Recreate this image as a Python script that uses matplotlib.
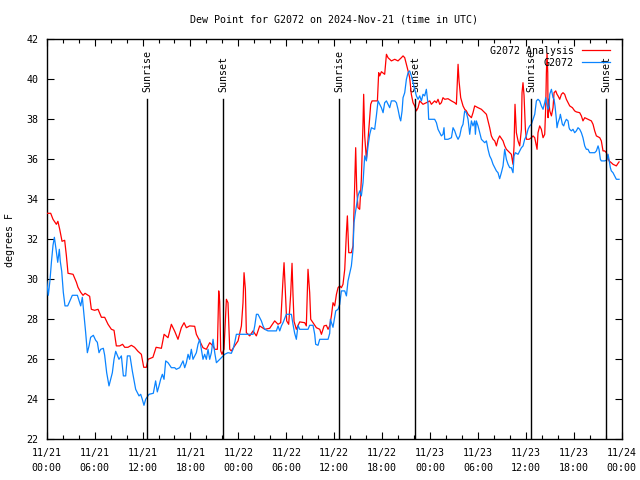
import matplotlib
matplotlib.use("Agg")
import matplotlib.pyplot as plt
import matplotlib.dates as mdates
import pandas as pd

# ---------------- data (hours since 2024-11-21 00:00 UTC, degrees F) ----------------
analysis_hours = [0, 0.5, 0.79, 1.21, 1.4, 1.63, 1.92, 2.25, 2.46, 2.67, 3.3, 3.72, 3.92, 4.26, 4.55, 4.8,
                  5.38, 5.59, 6.0, 6.43, 6.85, 7.26, 7.68, 8.1, 8.43, 8.72, 9.14, 9.5, 9.77, 10.18, 10.6,
                  11.0, 11.43, 11.85, 12.15, 12.48, 12.69, 13.3, 13.7, 14.36, 14.7, 15.19, 15.61, 16.03,
                  16.44, 16.86, 17.2, 17.49, 17.9, 18.53, 18.74, 19.16, 19.57, 19.99, 20.41, 20.83, 21.04,
                  21.37, 21.54, 21.66, 21.79, 21.95, 22.2, 22.5, 22.7, 22.92, 23.12, 23.54, 23.96, 24.38,
                  24.58, 24.71, 24.88, 25.0, 25.42, 25.84, 26.25, 26.67, 27.3, 27.92, 28.55, 28.97, 29.3,
                  29.59, 29.72, 29.89, 30.05, 30.3, 30.55, 30.72, 30.84, 30.97, 31.26, 31.68, 32.31, 32.51,
                  32.72, 32.93, 33.06, 33.35, 33.77, 34.19, 34.4, 34.73, 35.02, 35.23, 35.44, 35.65, 35.85,
                  36.06, 36.28, 36.48, 36.69, 36.9, 37.1, 37.32, 37.53, 37.65, 37.82, 38.15, 38.36, 38.57,
                  38.69, 38.82, 38.98, 39.19, 39.4, 39.61, 39.69, 39.82, 40.03, 40.24, 40.57, 40.74, 41.07,
                  41.41, 41.57, 41.7, 41.91, 42.32, 42.54, 42.74, 43.16, 43.58, 43.99, 44.41, 44.62, 44.83,
                  45.25, 45.45, 45.66, 45.87, 46.08, 46.29, 46.5, 46.71, 47.12, 47.54, 47.96, 48.17, 48.58,
                  48.8, 49.0, 49.21, 49.42, 49.62, 49.84, 50.25, 50.68, 51.09, 51.3, 51.51, 51.63, 51.84,
                  52.13, 52.34, 52.55, 52.76, 53.18, 53.38, 53.59, 54.01, 54.43, 54.85, 55.06, 55.26, 55.47,
                  55.68, 55.89, 56.1, 56.31, 56.51, 56.72, 57.14, 57.35, 57.56, 57.98, 58.18, 58.39, 58.52,
                  58.64, 58.81, 59.02, 59.23, 59.44, 59.52, 59.64, 59.77, 59.94, 60.07, 60.4, 60.69, 60.9,
                  61.11, 61.32, 61.4, 61.52, 61.73, 61.94, 62.15, 62.36, 62.49, 62.57, 62.65, 62.74, 62.78,
                  62.86, 62.99, 63.2, 63.4, 63.53, 63.74, 63.9, 64.03, 64.24, 64.45, 64.65, 64.86, 65.07,
                  65.28, 65.49, 65.83, 66.11, 66.32, 66.74, 66.95, 67.15, 67.37, 67.78, 68.2, 68.41, 68.62,
                  68.83, 69.25, 69.45, 69.66, 69.87, 70.08, 70.29, 70.41, 70.7, 70.91, 71.33, 71.54, 71.67]
analysis_values = [33.3, 33.3, 33.0, 32.75, 32.9, 32.5, 31.9, 31.95, 31.2, 30.3, 30.25, 29.85, 29.6, 29.35,
                   29.2, 29.3, 29.15, 28.5, 28.45, 28.5, 28.1, 28.1, 27.75, 27.5, 27.45, 26.67, 26.67, 26.75,
                   26.6, 26.6, 26.7, 26.6, 26.4, 26.25, 25.6, 25.6, 26.0, 26.1, 26.6, 26.55, 27.25, 27.08,
                   27.75, 27.4, 27.0, 27.58, 27.83, 27.58, 27.67, 27.65, 27.25, 26.92, 26.58, 26.5, 26.83,
                   26.67, 26.5, 26.5, 29.42, 28.9, 26.42, 26.25, 26.5, 29.0, 28.83, 26.5, 26.42, 26.67, 26.92,
                   27.67, 28.83, 30.33, 29.5, 27.33, 27.17, 27.42, 27.17, 27.67, 27.5, 27.55, 27.92, 27.75,
                   27.83, 30.0, 30.83, 29.33, 27.92, 27.75, 29.25, 30.8, 29.25, 27.9, 27.5, 27.87, 27.83,
                   27.67, 30.5, 29.33, 28.0, 27.83, 27.58, 27.5, 27.25, 27.67, 27.7, 27.5, 27.67, 28.17,
                   28.83, 28.67, 29.25, 29.58, 29.67, 29.58, 29.75, 30.5, 32.33, 33.17, 31.33, 31.33, 31.67,
                   34.67, 36.58, 34.5, 33.58, 33.5, 35.0, 37.83, 39.25, 37.17, 36.0, 37.0, 38.75, 38.92,
                   38.92, 38.92, 40.33, 40.17, 40.38, 40.25, 41.25, 41.08, 40.92, 41.0, 40.92, 41.08, 41.17,
                   41.08, 40.42, 40.08, 39.25, 38.83, 38.67, 38.42, 38.58, 38.92, 38.75, 38.83, 38.92, 38.75,
                   38.92, 38.83, 39.0, 38.75, 38.83, 39.08, 39.0, 39.03, 38.92, 38.83, 38.75, 40.75, 39.92,
                   39.08, 38.67, 38.5, 38.42, 38.25, 38.08, 38.33, 38.67, 38.58, 38.5, 38.33, 38.25, 37.92,
                   37.58, 37.17, 37.0, 36.92, 36.67, 37.0, 37.17, 36.92, 36.67, 36.5, 36.33, 36.25, 35.75,
                   36.67, 38.75, 37.33, 36.92, 36.67, 37.5, 39.33, 39.83, 39.2, 37.5, 37.0, 37.0, 37.08,
                   37.17, 37.08, 36.67, 36.5, 37.33, 37.67, 37.5, 37.08, 37.25, 38.67, 40.33, 41.3, 40.33,
                   38.08, 39.0, 38.42, 38.17, 38.58, 39.33, 39.42, 39.25, 39.17, 39.0, 39.25, 39.33, 39.25,
                   39.0, 38.83, 38.67, 38.58, 38.42, 38.37, 38.33, 38.17, 37.92, 38.08, 38.0, 37.92, 37.75,
                   37.42, 37.17, 37.08, 36.92, 36.42, 36.42, 36.33, 36.08, 35.92, 35.83, 35.75, 35.67, 35.8,
                   35.87]

station_hours = [
    0, 0.2, 0.4, 0.6, 0.79, 0.96, 1.17, 1.38, 1.58, 1.7,
    1.88, 2.08, 2.29, 2.63, 3.0, 3.21, 3.84, 4.26, 4.46, 4.67,
    4.88, 5.09, 5.3, 5.5, 5.84, 6.13, 6.34, 6.55, 6.76, 7.09,
    7.26, 7.51, 7.8, 8.22, 8.43, 8.64, 9.05, 9.35, 9.6, 9.89,
    10.1, 10.43, 10.72, 11.14, 11.56, 11.77, 11.97, 12.18, 12.39, 12.81,
    13.35, 13.64, 13.85, 14.06, 14.27, 14.48, 14.69, 14.9, 15.19, 15.61,
    16.03, 16.23, 16.65, 17.07, 17.28, 17.49, 17.7, 17.9, 18.11, 18.32,
    18.74, 18.95, 19.16, 19.37, 19.57, 19.78, 19.99, 20.2, 20.41, 20.62,
    20.83, 21.04, 21.25, 21.66, 21.87, 22.29, 22.7, 23.12, 23.33, 23.54,
    23.75, 25.84, 26.05, 26.26, 26.46, 26.67, 26.88, 27.09, 27.3, 27.71,
    28.76, 28.97, 29.18, 29.39, 29.59, 30.01, 30.64, 30.84, 31.05, 31.26,
    31.47, 31.68, 32.72, 32.93, 33.35, 33.56, 33.68, 33.97, 34.19, 35.23,
    35.44, 35.52, 35.85, 36.19, 36.48, 36.69, 36.9, 37.32, 37.53, 37.73,
    37.94, 38.15, 38.36, 38.48, 38.65, 38.78, 38.98, 39.19, 39.4, 39.61,
    39.82, 40.03, 40.24, 40.45, 40.66, 41.07, 41.28, 41.49, 41.7, 41.91,
    42.12, 42.32, 42.54, 42.74, 42.95, 43.16, 43.58, 43.79, 43.99, 44.2,
    44.33, 44.5, 44.62, 44.83, 45.04, 45.25, 45.45, 45.66, 45.87, 46.08,
    46.29, 46.5, 46.71, 46.92, 47.12, 47.33, 47.54, 47.75, 47.83, 48.58,
    48.8, 49.0, 49.21, 49.42, 49.62, 49.75, 49.84, 50.25, 50.68, 50.88,
    51.09, 51.3, 51.51, 51.72, 51.93, 52.13, 52.34, 52.55, 52.76, 52.88,
    52.97, 53.18, 53.38, 53.59, 53.68, 53.8, 54.01, 54.22, 54.43, 54.85,
    55.06, 55.26, 55.47, 55.68, 55.89, 56.1, 56.31, 56.51, 56.72, 56.93,
    57.14, 57.35, 57.56, 57.77, 57.98, 58.18, 58.39, 58.52, 58.68, 59.02,
    59.23, 59.44, 59.65, 59.85, 60.06, 60.27, 60.48, 60.69, 60.9, 61.11,
    61.32, 61.52, 61.73, 61.94, 62.15, 62.36, 62.49, 62.57, 62.78, 62.9,
    62.99, 63.2, 63.4, 63.53, 63.65, 63.82, 63.9, 64.03, 64.24, 64.32,
    64.45, 64.57, 64.74, 64.86, 65.07, 65.28, 65.41, 65.49, 65.7, 65.9,
    66.11, 66.32, 66.53, 66.74, 66.95, 67.15, 67.37, 67.57, 67.78, 67.99,
    68.62, 68.83, 69.04, 69.16, 69.33, 69.45, 69.87, 70.16, 70.29, 70.41,
    70.58, 70.7, 70.91, 71.12, 71.33, 71.67]
station_values = [
    29.9, 29.2, 29.9, 30.9, 31.7, 32.1, 31.5, 30.85, 31.5, 30.9,
    30.4, 29.35, 28.67, 28.67, 29.0, 29.2, 29.2, 28.67, 29.1, 28.2,
    27.33, 26.33, 26.67, 27.1, 27.2, 26.95, 26.85, 26.33, 26.5, 26.55,
    26.2, 25.33, 24.67, 25.33, 26.0, 26.4, 26.0, 26.17, 25.17, 25.17,
    26.17, 26.17, 25.42, 24.5, 24.17, 24.25, 24.0, 23.7, 24.0, 24.25,
    24.3, 24.92, 24.37, 24.67, 25.0, 25.25, 25.0, 25.92, 25.83, 25.58,
    25.58, 25.5, 25.58, 25.92, 25.58, 25.83, 26.25, 26.0, 26.5, 26.0,
    26.33, 26.75, 27.0, 26.5, 26.0, 26.25, 26.0, 26.5, 26.0, 26.33,
    27.0, 26.33, 25.83, 26.0, 26.08, 26.25, 26.33, 26.3, 26.5, 26.83,
    27.25, 27.25, 27.67, 28.25, 28.25, 28.08, 27.92, 27.67, 27.5, 27.42,
    27.42, 27.67, 27.42, 27.67, 27.83, 28.25, 28.25, 27.75, 27.3, 27.0,
    27.7, 27.5, 27.5, 27.7, 27.7, 27.25, 26.75, 26.7, 27.0, 27.0,
    27.3, 28.0, 27.6, 28.42, 28.5, 28.75, 29.42, 29.42, 29.17, 29.92,
    30.3, 30.67, 31.5, 32.83, 33.33, 33.67, 34.17, 34.42, 34.17, 34.83,
    36.17, 35.92, 36.67, 37.25, 37.58, 37.5, 38.17, 38.92, 38.75, 38.58,
    38.33, 38.83, 38.92, 38.75, 38.58, 38.92, 38.92, 38.83, 38.5, 38.08,
    37.92, 38.42, 39.08, 39.33, 40.0, 40.33, 40.42, 40.17, 39.83, 39.5,
    39.17, 39.0, 39.17, 38.92, 39.25, 39.17, 39.5, 38.75, 38.0, 38.0,
    37.83, 37.5, 37.33, 37.17, 37.25, 37.58, 37.0, 37.0, 37.08, 37.58,
    37.42, 37.17, 37.0, 37.17, 37.58, 37.75, 38.42, 38.33, 38.0, 37.58,
    37.25, 37.92, 37.67, 37.92, 37.25, 37.92, 37.67, 37.33, 37.0, 36.83,
    36.92, 36.5, 36.17, 36.0, 35.75, 35.58, 35.42, 35.33, 35.03, 35.33,
    35.67, 36.5, 36.0, 35.75, 35.58, 35.58, 35.33, 36.17, 36.33, 36.25,
    36.42, 36.58, 36.67, 37.0, 37.17, 37.5, 37.67, 37.75, 38.0, 38.25,
    38.92, 39.0, 38.92, 38.67, 38.5, 38.83, 39.08, 38.83, 38.5, 38.67,
    39.25, 39.5, 39.08, 39.0, 38.67, 38.0, 37.58, 37.83, 38.08, 38.25,
    38.0, 37.75, 37.67, 37.83, 38.0, 37.92, 37.58, 37.5, 37.42, 37.5,
    37.33, 37.42, 37.58, 37.5, 37.33, 37.08, 36.67, 36.5, 36.5, 36.33,
    36.33, 36.42, 36.67, 36.5, 36.0, 35.92, 35.92, 35.97, 36.25, 36.0,
    35.58, 35.42, 35.33, 35.17, 35.0, 35.0]

sun_event_hours = [12.6, 22.11, 36.64, 46.15, 60.68, 70.07]
sun_event_labels = ["Sunrise", "Sunset", "Sunrise", "Sunset", "Sunrise", "Sunset"]
series_labels = ["G2072 Analysis", "G2072"]
title_text = "Dew Point for G2072 on 2024-Nov-21 (time in UTC)"
ylabel_text = "degrees F"

# ---------------- plot ----------------
base = pd.Timestamp("2024-11-21 00:00")
def to_time(hours):
    return base + pd.to_timedelta(pd.Series(hours), unit="h")

FONT = "DejaVu Sans Mono"
FS = 7.2
plt.rcParams["font.family"] = FONT

fig = plt.figure(figsize=(6.4, 4.8), dpi=100)
ax = fig.add_axes([46.7 / 640, 1 - 439.3 / 480, 575 / 640, 400 / 480])

ax.plot(to_time(analysis_hours), analysis_values, color="#ff0000", lw=0.9, label=series_labels[0], zorder=3)
ax.plot(to_time(station_hours), station_values, color="#0a84ff", lw=0.9, label=series_labels[1], zorder=4)

for h, lab in zip(to_time(sun_event_hours), sun_event_labels):
    ax.plot([h, h], [22, 39.0], color="black", lw=1.0, zorder=5)
    ax.text(h, 39.35, lab, rotation=90, ha="center", va="bottom", fontsize=FS, zorder=2)

ax.set_xlim(base, base + pd.Timedelta(hours=72))
ax.set_ylim(22, 42)
ax.set_yticks(range(22, 43, 2))

ax.xaxis.set_major_locator(mdates.HourLocator(byhour=[0, 6, 12, 18]))
ax.xaxis.set_minor_locator(mdates.HourLocator(byhour=list(range(0, 24, 2))))
ax.xaxis.set_major_formatter(mdates.DateFormatter("%m/%d\n%H:%M"))

ax.tick_params(axis="both", which="major", direction="in", top=True, right=True,
               length=5, width=0.8, labelsize=FS, pad=6)
ax.tick_params(axis="x", which="minor", direction="in", top=True, length=3, width=0.8)
for lbl in ax.get_xticklabels():
    lbl.set_linespacing(1.65)
for s in ax.spines.values():
    s.set_linewidth(1.0)

fig.text(334 / 640, 1 - 20 / 480, title_text, ha="center", va="center", fontsize=FS)
fig.text(10 / 640, 0.5, ylabel_text, rotation=90, ha="center", va="center", fontsize=FS)

leg = fig.legend(handles=ax.get_lines()[:2], labels=series_labels, loc="upper right",
                 bbox_to_anchor=(610 / 640, 1 - 45.5 / 480), bbox_transform=fig.transFigure,
                 frameon=False, fontsize=FS, markerfirst=False, handlelength=2.8,
                 handletextpad=0.8, labelspacing=0.2, borderpad=0.0, borderaxespad=0.0)
for t in leg.get_texts():
    t.set_ha("right")

fig.savefig("out.png", dpi=100)
